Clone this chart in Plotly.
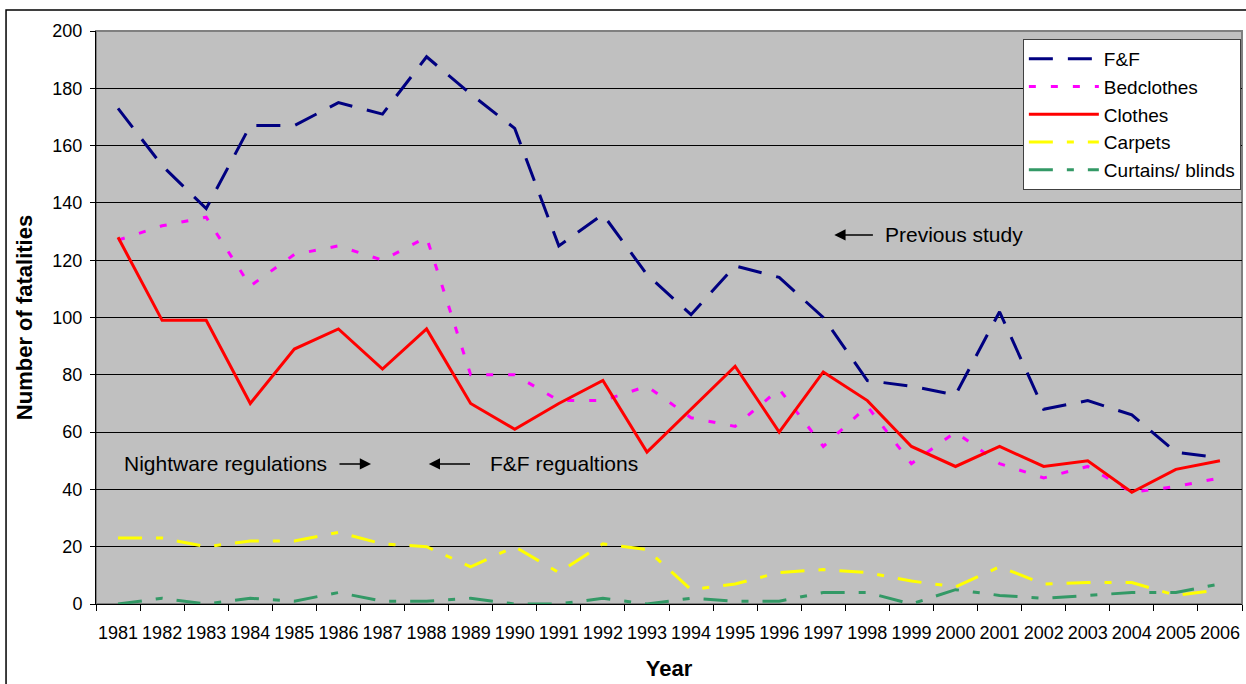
import plotly.graph_objects as go

# Fatalities by item first ignited, 1981-2006
years = [str(y) for y in range(1981, 2007)]
ff = [173, 153, 138, 167, 167, 175, 171, 191, 178, 166, 125, 136, 115,
      101, 118, 114, 100, 78, 76, 73, 102, 68, 71, 66, 53, 51]
bedclothes = [127, 132, 135, 111, 122, 125, 120, 128, 80, 80, 71, 71, 76,
              65, 62, 75, 55, 69, 49, 60, 49, 44, 48, 39, 41, 44]
clothes = [128, 99, 99, 70, 89, 96, 82, 96, 70, 61, 70, 78, 53,
           68, 83, 60, 81, 71, 55, 48, 55, 48, 50, 39, 47, 50]
carpets = [23, 23, 20, 22, 22, 25, 21, 20, 13, 20, 11, 21, 19,
           5, 7, 11, 12, 11, 8, 6, 13, 7, 7.5, 7.5, 3, 5]
curtains = [0, 2, 0, 2, 1, 4, 1, 1, 2, 0, 0, 2, 0,
            2, 1, 1, 4, 4, 0, 5, 3, 2, 3, 4, 4, 7]

# years marked with a vertical line
event_years = ["1987", "1988", "1997"]

FONT = "Arial, 'Liberation Sans', sans-serif"
DASHDOT = "24px,14px,7px,14px"

series = [
    ("F&F", ff, "#000080", "24px,15px"),
    ("Bedclothes", bedclothes, "#FF00FF", "7px,15px"),
    ("Clothes", clothes, "#FF0000", "solid"),
    ("Carpets", carpets, "#FFFF00", DASHDOT),
    ("Curtains/ blinds", curtains, "#339966", DASHDOT),
]

fig = go.Figure()
for name, vals, color, dash in series:
    fig.add_trace(go.Scatter(
        x=years, y=vals, name=name, mode="lines",
        line=dict(color=color, width=3, dash=dash),
    ))

# vertical event lines
for yr in event_years:
    fig.add_shape(type="line", xref="x", yref="y", x0=yr, x1=yr, y0=1, y1=200,
                  line=dict(color="black", width=2), layer="above")

# plot area border (grey) and outer chart frame
fig.add_shape(type="rect", xref="paper", yref="paper", x0=0, x1=1, y0=0, y1=1,
              line=dict(color="#808080", width=2), layer="below")
fig.add_shape(type="rect", xref="paper", yref="paper",
              x0=-0.0785, x1=1.01, y0=-0.16, y1=1.0366,
              line=dict(color="black", width=1.5), layer="below")

arrow = dict(text="", showarrow=True, arrowhead=2, arrowsize=1.5,
             arrowwidth=1.5, arrowcolor="black", axref="x", ayref="y",
             xref="x", yref="y")
label = dict(showarrow=False, xref="x", yref="y",
             font=dict(family=FONT, size=21, color="black"))

fig.update_layout(
    annotations=[
        dict(arrow, x=5.74, y=48.9, ax=4.99, ay=48.9),
        dict(arrow, x=7.05, y=48.9, ax=8.02, ay=48.9),
        dict(arrow, x=16.25, y=128.8, ax=17.16, ay=128.8),
        dict(label, text="Nightware regulations", x=4.79, y=48.9, xanchor="right"),
        dict(label, text="F&F regualtions", x=8.39, y=48.9, xanchor="left"),
        dict(label, text="Previous study", x=17.36, y=128.8, xanchor="left"),
    ],
    width=1246, height=684,
    margin=dict(l=96, r=4, t=31, b=80),
    paper_bgcolor="white",
    plot_bgcolor="#C0C0C0",
    font=dict(family=FONT, color="black"),
    xaxis=dict(
        type="category", range=[-0.5, 25.5],
        showline=True, linecolor="black", linewidth=1,
        ticks="outside", ticklen=6, tickcolor="black", tickson="boundaries",
        showgrid=False, zeroline=False, tickangle=0,
        tickfont=dict(size=18), ticklabelstandoff=12,
        title=dict(text="Year", font=dict(size=22, weight="bold"), standoff=19),
    ),
    yaxis=dict(
        range=[0, 200], dtick=20,
        showline=True, linecolor="black", linewidth=1,
        ticks="outside", ticklen=5, tickcolor="black",
        showgrid=True, gridcolor="black", gridwidth=1, zeroline=False,
        tickfont=dict(size=18), ticklabelstandoff=4,
        title=dict(text="Number of fatalities", font=dict(size=22, weight="bold"),
                   standoff=13),
    ),
    legend=dict(
        x=0.999, y=0.986, xanchor="right", yanchor="top",
        bgcolor="white", bordercolor="#404040", borderwidth=1,
        font=dict(size=19), itemwidth=70, tracegroupgap=0,
    ),
)

# drop the browser's default body margin so the figure sits at the page corner
fig.write_html("out.html", config={"displayModeBar": False},
               post_script="document.body.style.margin = '0';")
